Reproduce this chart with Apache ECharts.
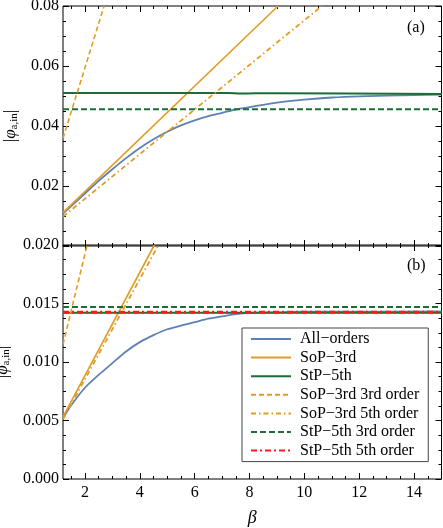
<!DOCTYPE html>
<html>
<head>
<meta charset="utf-8">
<script src="https://cdn.jsdelivr.net/npm/echarts@6/dist/echarts.min.js"></script>
<style>
  html, body { margin: 0; padding: 0; background: #fff; }
  #chart { width: 443px; height: 528px; }
</style>
</head>
<body>
<div id="chart"></div>
<script>
// beta axis
var betaMin = 1.2, betaMax = 15;
var betaTicks = [2, 4, 6, 8, 10, 12, 14];
var betaMinorTicks = [1.5, 2.5, 3, 3.5, 4.5, 5, 5.5, 6.5, 7, 7.5, 8.5, 9, 9.5, 10.5, 11, 11.5, 12.5, 13, 13.5, 14.5];

// panel (a)
var allOrdersA = [[1.2, 0.0108], [1.5, 0.0133], [2, 0.0175], [2.5, 0.0217], [3, 0.0256], [3.5, 0.0293],
  [4, 0.0327], [4.5, 0.0356], [5, 0.0381], [5.5, 0.0402], [6, 0.0419], [6.5, 0.0433], [7, 0.0444],
  [7.5, 0.0455], [8, 0.0463], [9, 0.0478], [10, 0.0488], [11, 0.0495], [12, 0.0499], [13, 0.0501],
  [14, 0.0503], [15, 0.0505]];
var sop3A = [[1.2, 0.0111], [9.04, 0.08]];
var stp5A = [[1.2, 0.0510], [7.2, 0.0510], [7.7, 0.0508], [8.2, 0.0509], [9, 0.0509], [15, 0.0507]];
var sop3ord3A = [[1.2, 0.0359], [2.7, 0.08]];
var sop3ord5A = [[1.2, 0.0098], [10.64, 0.08]];
var stp5ord3A = [[1.2, 0.0456], [15, 0.0456]];

// panel (b)
var allOrdersB = [[1.2, 0.0052], [1.5, 0.0063], [2, 0.0078], [2.5, 0.0089], [3, 0.0099], [3.5, 0.0109],
  [4, 0.0117], [4.5, 0.0123], [5, 0.0128], [5.5, 0.0131], [6, 0.0134], [6.5, 0.0137], [7, 0.0139],
  [7.5, 0.0141], [8, 0.0142], [9, 0.01425], [10, 0.0143], [12, 0.0143], [15, 0.01432]];
var sop3B = [[1.2, 0.0053], [4.53, 0.02]];
var stp5B = [[1.2, 0.0142], [15, 0.0142]];
var sop3ord3B = [[1.2, 0.0115], [2.08, 0.02]];
var sop3ord5B = [[1.2, 0.0051], [4.68, 0.02]];
var stp5ord3B = [[1.2, 0.0147], [15, 0.0147]];
var stp5ord5B = [[1.2, 0.01425], [15, 0.01425]];

var names = ['All\u2212orders', 'SoP\u22123rd', 'StP\u22125th', 'SoP\u22123rd 3rd order',
  'SoP\u22123rd 5th order', 'StP\u22125th 3rd order', 'StP\u22125th 5th order'];

var BLUE = '#5e81b5', ORANGE = '#e19c24', GREEN = '#1d6b35', RED = '#ff1a1a';
var FONT = 'Liberation Serif';

var chart = echarts.init(document.getElementById('chart'));

function xAxes(gridIndex, showLabels) {
  var list = [];
  ['bottom', 'top'].forEach(function (pos) {
    [[betaTicks, 6], [betaMinorTicks, 3]].forEach(function (t, k) {
      var ax = {
        type: 'value', gridIndex: gridIndex, position: pos, min: betaMin, max: betaMax,
        axisLine: { show: false },
        splitLine: { show: false },
        axisTick: { show: true, inside: true, length: t[1], customValues: t[0], lineStyle: { color: '#000' } },
        axisLabel: { show: false }
      };
      if (pos === 'bottom' && k === 0 && showLabels) {
        ax.axisLabel = { show: true, customValues: betaTicks, margin: 6, color: '#000', fontFamily: FONT, fontSize: 16 };
        ax.name = '\u03b2';
        ax.nameLocation = 'middle';
        ax.nameGap = 30;
        ax.nameTextStyle = { fontFamily: FONT, fontStyle: 'italic', fontSize: 18, color: '#000' };
      }
      list.push(ax);
    });
  });
  return list;
}

function yAxes(gridIndex, max, interval, digits, showMin) {
  var common = {
    type: 'value', gridIndex: gridIndex, min: 0, max: max, interval: interval,
    axisLine: { show: false },
    splitLine: { show: false },
    axisTick: { show: true, inside: true, length: 6, lineStyle: { color: '#000' } },
    minorTick: { show: true, splitNumber: 4, length: 3, lineStyle: { color: '#000' } },
    minorSplitLine: { show: false }
  };
  var left = Object.assign({}, common, {
    position: 'left',
    axisLabel: {
      show: true, showMinLabel: showMin, margin: 4, color: '#000', fontFamily: FONT, fontSize: 16,
      formatter: function (v) { return v.toFixed(digits); }
    },
    name: '|{phi|\u03c6}{sub|a,in}|',
    nameLocation: 'middle',
    nameRotate: 90,
    nameGap: 41,
    nameTextStyle: {
      fontFamily: FONT, fontSize: 17, color: '#000',
      rich: {
        phi: { fontFamily: FONT, fontStyle: 'italic', fontSize: 17, color: '#000' },
        sub: { fontFamily: FONT, fontSize: 11, color: '#000', padding: [8, 0, 0, 0] }
      }
    }
  });
  var right = Object.assign({}, common, { position: 'right', axisLabel: { show: false } });
  return [left, right];
}

function line(name, data, xi, yi, color, width, type, z, smooth) {
  return {
    name: name, type: 'line', data: data, xAxisIndex: xi, yAxisIndex: yi,
    symbol: 'circle', showSymbol: false, smooth: smooth || false,
    z: z || 2, animation: false,
    lineStyle: { color: color, width: width, type: type },
    itemStyle: { color: 'rgba(0,0,0,0)' }
  };
}

var dashOrange = [5, 3];
var dotDashOrange = [5, 3, 1.5, 3];
var dashGreen = [6, 3];
var dotDashRed = [6, 3, 2, 3];

var option = {
  backgroundColor: '#fff',
  animation: false,
  grid: [
    { left: 63, right: 1.5, top: 6, height: 240, show: true, borderColor: '#000', borderWidth: 1,
      backgroundColor: '#fff', outerBoundsMode: 'none', containLabel: false },
    { left: 63, right: 1.5, top: 245, height: 234, show: true, borderColor: '#000', borderWidth: 1,
      backgroundColor: 'transparent', outerBoundsMode: 'none', containLabel: false }
  ],
  xAxis: xAxes(0, false).concat(xAxes(1, true)),
  yAxis: yAxes(0, 0.08, 0.02, 2, false).concat(yAxes(1, 0.02, 0.005, 3, true)),
  legend: {
    orient: 'vertical', left: 242, top: 328,
    data: names,
    itemWidth: 40, itemHeight: 14, itemGap: 2.6,
    padding: [3, 9, 3, 8],
    borderColor: '#444', borderWidth: 1, backgroundColor: '#fff',
    itemStyle: { opacity: 0 },
    textStyle: { fontFamily: FONT, fontSize: 16, color: '#000', padding: [0, 0, 0, 4] }
  },
  graphic: [
    { type: 'text', left: 407, top: 20, style: { text: '(a)', font: '16px "Liberation Serif"', fill: '#000' } },
    { type: 'text', left: 407, top: 258, style: { text: '(b)', font: '16px "Liberation Serif"', fill: '#000' } }
  ],
  series: [
    line(names[0], allOrdersA, 0, 0, BLUE, 1.8, 'solid', 2, 0.3),
    line(names[1], sop3A, 0, 0, ORANGE, 1.6, 'solid'),
    line(names[2], stp5A, 0, 0, GREEN, 2, 'solid', 2, 0.3),
    line(names[3], sop3ord3A, 0, 0, ORANGE, 1.6, dashOrange),
    line(names[4], sop3ord5A, 0, 0, ORANGE, 1.8, dotDashOrange),
    line(names[5], stp5ord3A, 0, 0, GREEN, 2, dashGreen),

    line(names[0], allOrdersB, 4, 2, BLUE, 1.8, 'solid', 2, 0.3),
    line(names[1], sop3B, 4, 2, ORANGE, 1.6, 'solid'),
    line(names[2], stp5B, 4, 2, GREEN, 2, 'solid'),
    line(names[3], sop3ord3B, 4, 2, ORANGE, 1.6, dashOrange),
    line(names[4], sop3ord5B, 4, 2, ORANGE, 1.8, dotDashOrange),
    line(names[5], stp5ord3B, 4, 2, GREEN, 2, dashGreen),
    line(names[6], stp5ord5B, 4, 2, RED, 3, dotDashRed, 3)
  ]
};

chart.setOption(option);
window.addEventListener('resize', function () { chart.resize(); });
</script>
</body>
</html>
